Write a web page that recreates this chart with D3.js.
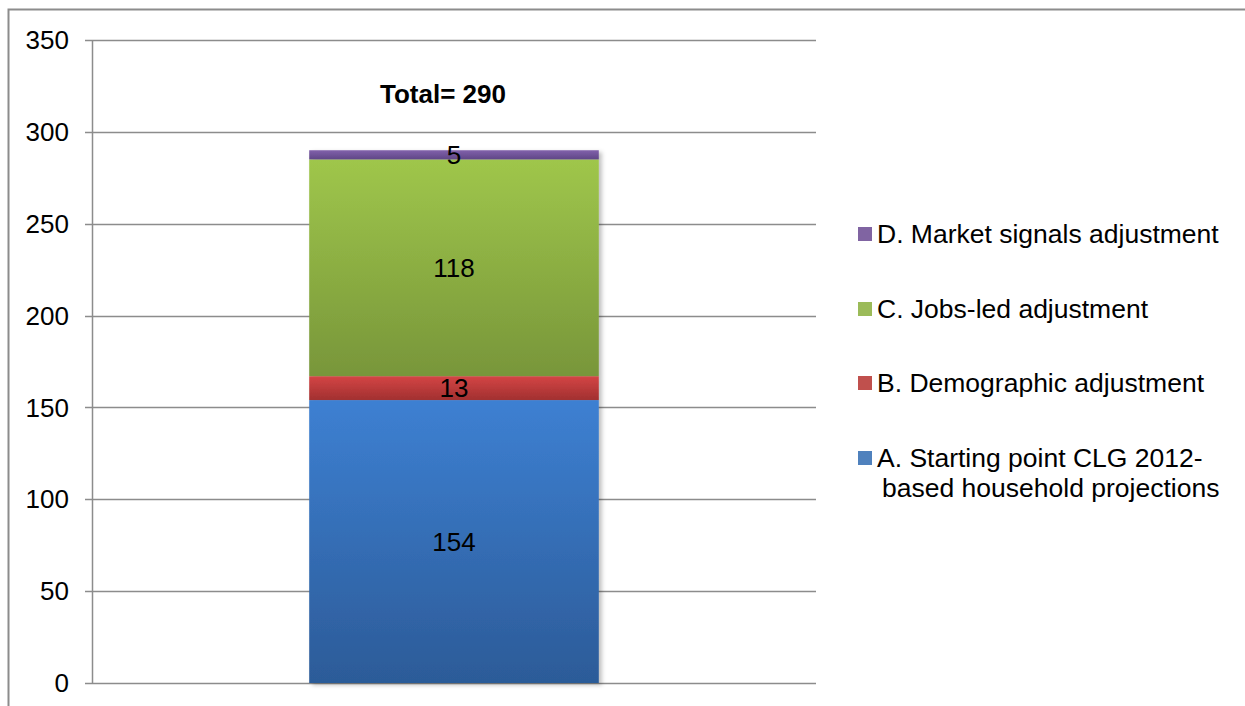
<!DOCTYPE html>
<html>
<head>
<meta charset="utf-8">
<script src="https://cdn.jsdelivr.net/npm/d3@7"></script>
<style>
  html, body { margin: 0; padding: 0; background: #fff; }
  svg { display: block; }
  text { font-family: "Liberation Sans", Arial, sans-serif; }
</style>
</head>
<body>
<svg id="chart" width="1245" height="706"></svg>
<script>
// Housing need components (thousands of dwellings), stacked bottom to top
const categories = ["Total"];
const seriesNames = [
  "A. Starting point CLG 2012-based household projections",
  "B. Demographic adjustment",
  "C. Jobs-led adjustment",
  "D. Market signals adjustment"
];
const seriesValues = [154, 13, 118, 5];
const totalValue = 290;
const yTicks = [0, 50, 100, 150, 200, 250, 300, 350];
const legendLines = [
  ["D. Market signals adjustment"],
  ["C. Jobs-led adjustment"],
  ["B. Demographic adjustment"],
  ["A. Starting point CLG 2012-", "based household projections"]
];
const colorsTop = ["#3d80d2", "#d44545", "#9fc64b", "#8161ab"];
const colorsBottom = ["#2c5b98", "#a13030", "#78963a", "#5f4686"];
const legendColors = ["#8064a2", "#9bbb59", "#c0504d", "#4f81bd"];

const FONT = 26;

const svg = d3.select("#chart");

// Outer chart frame
svg.append("rect")
  .attr("x", 8.5).attr("y", 9.5)
  .attr("width", 1260).attr("height", 720)
  .attr("fill", "none").attr("stroke", "#8c8c8c").attr("stroke-width", 2);

const plot = { left: 92, right: 816, top: 40, bottom: 683 };

const y = d3.scaleLinear().domain([0, 350]).range([plot.bottom, plot.top]);
const x = d3.scaleBand().domain(categories).range([plot.left, plot.right]).paddingInner(0.6).paddingOuter(0.3);

// Gridlines
svg.append("g")
  .selectAll("line")
  .data(yTicks)
  .join("line")
  .attr("x1", plot.left - 7).attr("x2", plot.right)
  .attr("y1", d => Math.round(y(d)) + 0.5).attr("y2", d => Math.round(y(d)) + 0.5)
  .attr("stroke", "#8c8c8c").attr("stroke-width", 1.5);

// Y axis line
svg.append("line")
  .attr("x1", plot.left + 0.5).attr("x2", plot.left + 0.5)
  .attr("y1", plot.top).attr("y2", plot.bottom)
  .attr("stroke", "#8c8c8c").attr("stroke-width", 1.5);

// Y tick labels
svg.append("g")
  .selectAll("text")
  .data(yTicks)
  .join("text")
  .attr("x", 69).attr("y", d => y(d))
  .attr("dy", "0.35em")
  .attr("text-anchor", "end")
  .attr("font-size", FONT)
  .attr("fill", "#000")
  .text(d => d);

// Gradients for each segment
const defs = svg.append("defs");
seriesNames.forEach((_, i) => {
  const g = defs.append("linearGradient")
    .attr("id", "grad" + i)
    .attr("x1", 0).attr("y1", 0).attr("x2", 0).attr("y2", 1);
  g.append("stop").attr("offset", "0%").attr("stop-color", colorsTop[i]);
  g.append("stop").attr("offset", "100%").attr("stop-color", colorsBottom[i]);
});
const shadow = defs.append("filter").attr("id", "shadow")
  .attr("x", "-5%").attr("y", "-5%").attr("width", "115%").attr("height", "115%");
shadow.append("feDropShadow")
  .attr("dx", 3).attr("dy", 2).attr("stdDeviation", 2)
  .attr("flood-color", "#000").attr("flood-opacity", 0.25);

// Stack the series
const row = {};
seriesNames.forEach((n, i) => row[n] = seriesValues[i]);
const stacked = d3.stack().keys(seriesNames)([row]);

const barX = x(categories[0]);
const barW = x.bandwidth();

const bars = svg.append("g").attr("filter", "url(#shadow)");
bars.selectAll("rect")
  .data(stacked)
  .join("rect")
  .attr("x", barX)
  .attr("width", barW)
  .attr("y", d => y(d[0][1]))
  .attr("height", d => y(d[0][0]) - y(d[0][1]))
  .attr("fill", (d, i) => `url(#grad${i})`);

// Segment value labels
svg.append("g")
  .selectAll("text")
  .data(stacked)
  .join("text")
  .attr("x", barX + barW / 2)
  .attr("y", d => y((d[0][0] + d[0][1]) / 2))
  .attr("dy", "0.35em")
  .attr("text-anchor", "middle")
  .attr("font-size", FONT)
  .attr("fill", "#000")
  .text((d, i) => seriesValues[i]);

// Total label
svg.append("text")
  .attr("x", barX + barW / 2 - 11)
  .attr("y", y(totalValue) - 47)
  .attr("text-anchor", "middle")
  .attr("font-family", "Lato, 'Open Sans', sans-serif")
  .attr("font-weight", "bold")
  .attr("font-size", 26)
  .attr("fill", "#000")
  .text("Total= " + totalValue);

// Legend
const legendY = [234, 309, 383, 458];
const legend = svg.append("g");
legendLines.forEach((lines, i) => {
  const g = legend.append("g").attr("transform", `translate(858, ${legendY[i]})`);
  g.append("rect")
    .attr("x", 0).attr("y", -7)
    .attr("width", 14).attr("height", 14)
    .attr("fill", legendColors[i]);
  lines.forEach((t, j) => {
    g.append("text")
      .attr("x", j === 0 ? 19 : 24)
      .attr("y", j * 30)
      .attr("dy", "0.35em")
      .attr("font-size", 26.5)
      .attr("fill", "#000")
      .text(t);
  });
});
</script>
</body>
</html>
